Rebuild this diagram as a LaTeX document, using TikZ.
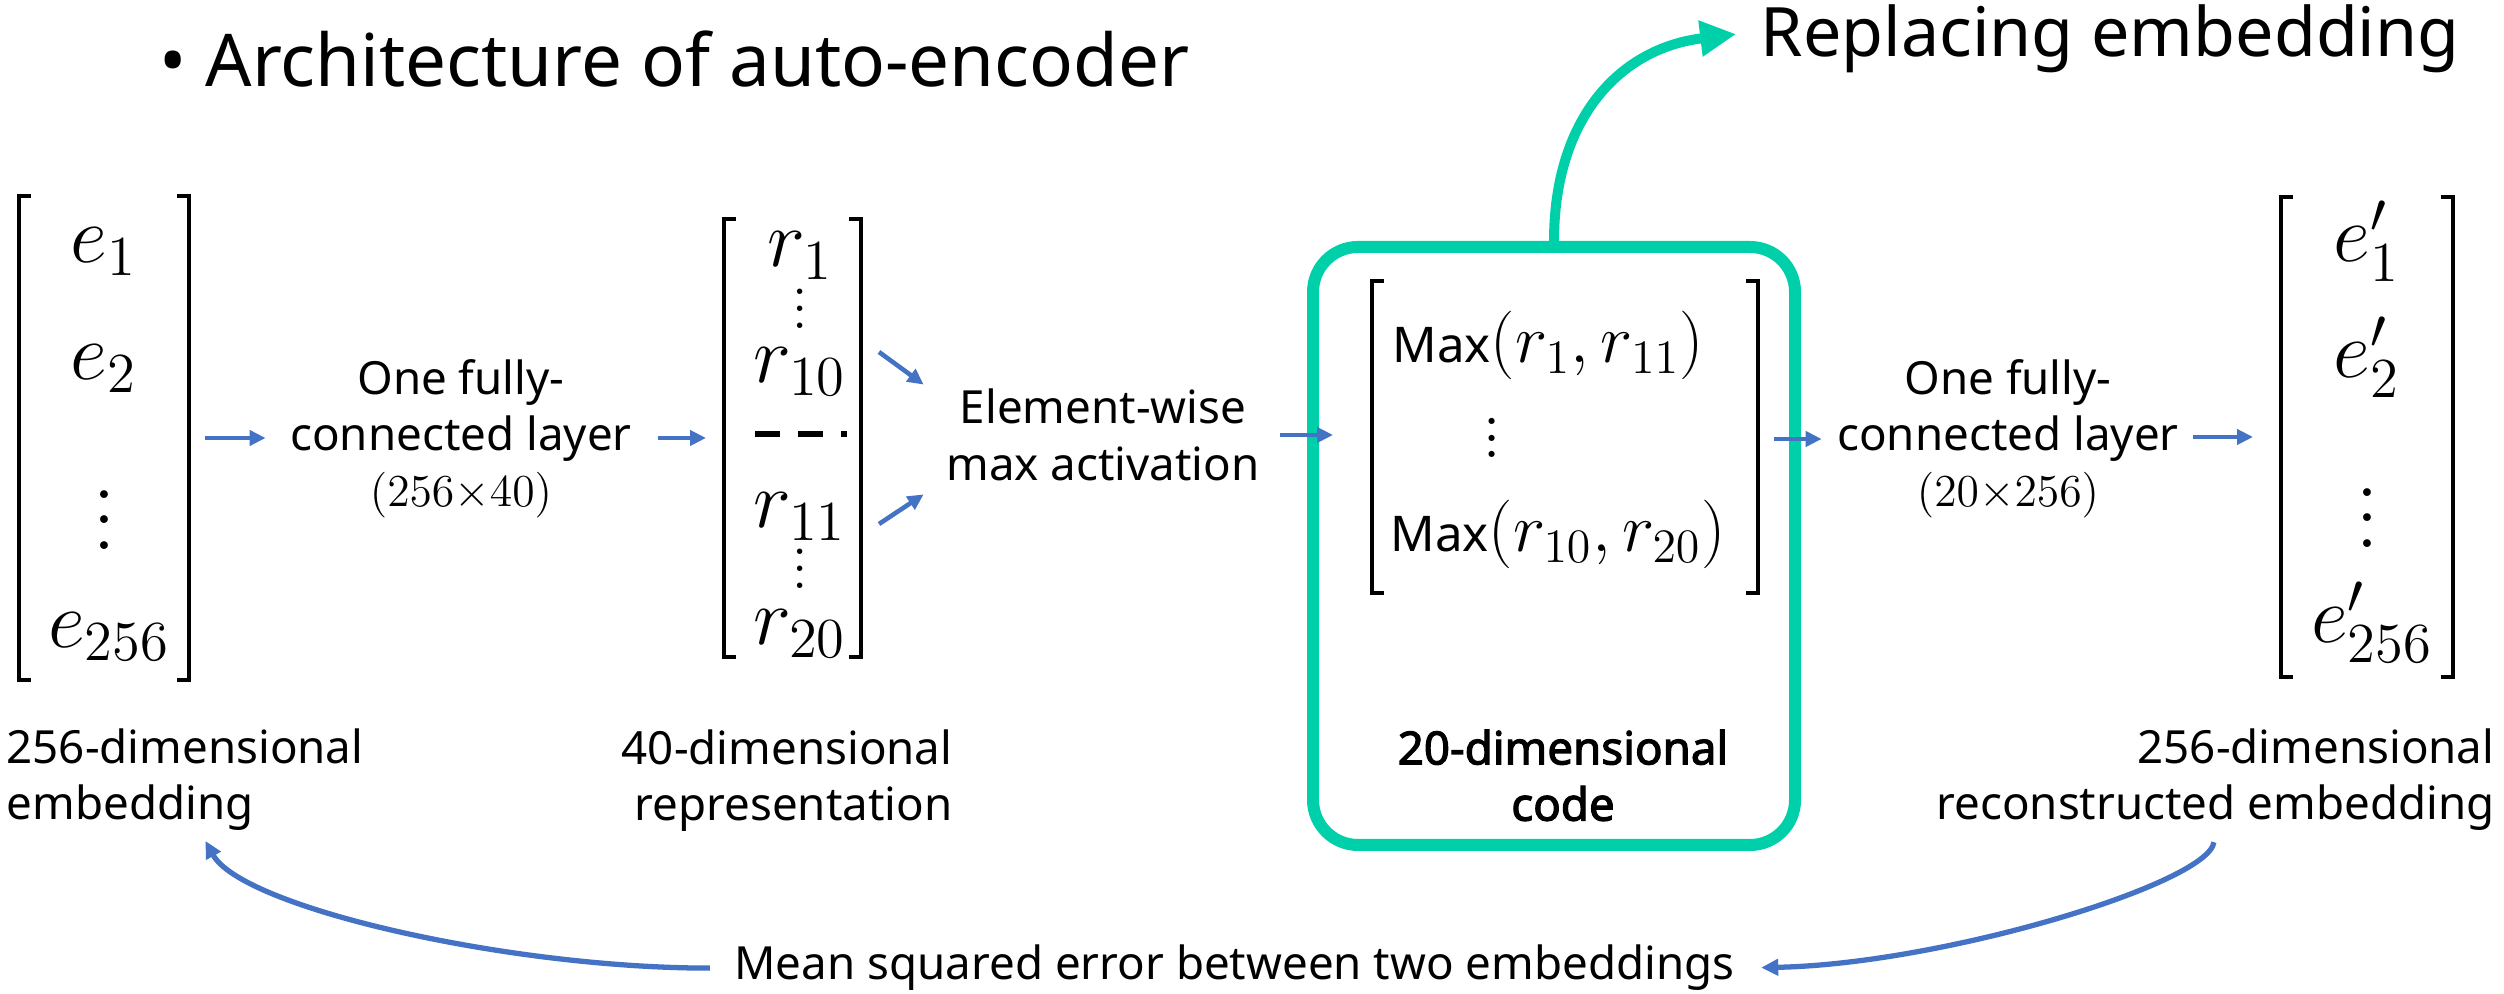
\RequirePackage{fix-cm}
\documentclass[tikz,border=0pt]{standalone}
\usepackage[no-math]{fontspec}
\setmainfont{Noto Sans}[AutoFakeBold=2.5]
\usetikzlibrary{arrows.meta,calc}

\definecolor{flowblue}{RGB}{68,114,196}
\definecolor{codegreen}{RGB}{0,208,170}

% three stacked dots with a chosen pitch
\newcommand\vdotz[1]{\vbox{\baselineskip=#1\lineskiplimit=0pt\hbox{$.$}\hbox{$.$}\hbox{$.$}}}
% square brackets round an empty vector node
\newcommand\vecbrackets[2][0.12]{%
  \draw[brk] ([xshift=#1cm]#2.north west) -- (#2.north west) -- (#2.south west) -- ++(#1,0);
  \draw[brk] ([xshift=-#1cm]#2.north east) -- (#2.north east) -- (#2.south east) -- ++(-#1,0);}

\tikzset{
  vecbox/.style={inner sep=0pt, outer sep=0pt},
  brk/.style={draw=black, line width=1pt},
  ent/.style={font=\fontsize{23}{27}\selectfont, inner sep=0pt, anchor=base},
  txt/.style={font=\fontsize{13}{16}\selectfont, inner sep=0pt},
  flow/.style={draw=flowblue, line width=1.3pt, -{Triangle[length=0.16cm,width=0.15cm]}},
  loss/.style={draw=flowblue, line width=1.5pt, -{Triangle[length=0.17cm,width=0.16cm]}},
  replace/.style={draw=codegreen, line width=0.1cm, -{Triangle[length=0.36cm,width=0.34cm]}},
  codebox/.style={draw=codegreen, line width=0.12cm, rounded corners=0.45cm, inner sep=0pt},
  sepline/.style={draw=black, line width=1.7pt, dash pattern=on 0.25cm off 0.18cm},
}

\begin{document}
\begin{tikzpicture}
  \fill[white] (0,0) rectangle (25.04,9.94);
  \useasboundingbox (0,0) rectangle (25.04,9.94);

  % headings
  \node[anchor=base west, inner sep=0pt, font=\fontsize{20.7}{25}\selectfont] (title) at (2.05,9.07) {\llap{•\ }Architecture of auto-encoder};
  \node[anchor=base west, inner sep=0pt, font=\fontsize{19.4}{23}\selectfont] (replacing) at (17.60,9.37) {Replacing embedding};

  % input embedding
  \node[vecbox, minimum width=1.70cm, minimum height=4.84cm] (emb) at (1.04,5.56) {};
  \foreach \nm/\lab/\x/\y in {e1/e_1/1.04/7.31, e2/e_2/1.04/6.14, e256/e_{256}/1.09/3.46}
    \node[ent] (\nm) at (\x,\y) {$\lab$};
  \node[ent, anchor=center] (edots) at (1.04,4.74) {\vdotz{7.3pt}};
  \vecbrackets{emb}

  % 40-dimensional representation
  \node[vecbox, minimum width=1.37cm, minimum height=4.38cm] (rep) at (7.925,5.56) {};
  \foreach \nm/\lab/\y in {r1/r_1/7.27, r10/r_{10}/6.11, r11/r_{11}/4.66, r20/r_{20}/3.49}
    \node[ent] (\nm) at (8.0,\y) {$\lab$};
  \node[ent, anchor=center, font=\fontsize{16}{18}\selectfont] (rdotsa) at (8.0,6.85) {\vdotz{4.8pt}};
  \node[ent, anchor=center, font=\fontsize{16}{18}\selectfont] (rdotsb) at (8.0,4.25) {\vdotz{4.8pt}};
  \draw[sepline] (7.55,5.60) -- (8.47,5.60);
  \vecbrackets{rep}

  % 20-dimensional code
  \node[codebox, minimum width=4.82cm, minimum height=5.98cm] (code) at (15.54,4.48) {};
  \node[vecbox, minimum width=3.86cm, minimum height=3.12cm] (codevec) at (15.65,5.57) {};
  \node[anchor=base west, inner sep=0pt] (max1) at (13.92,6.31)
    {{\fontsize{14}{16}\selectfont Max}{\fontsize{19.5}{22}\selectfont$(r_1, r_{11})$}};
  \node[anchor=center, inner sep=0pt, font=\fontsize{18}{20}\selectfont] (mdots) at (14.92,5.56) {\vdotz{4.8pt}};
  \node[anchor=base west, inner sep=0pt] (max2) at (13.90,4.42)
    {{\fontsize{14}{16}\selectfont Max}{\fontsize{19.5}{22}\selectfont$(r_{10}, r_{20})$}};
  \vecbrackets{codevec}

  % reconstructed embedding
  \node[vecbox, minimum width=1.72cm, minimum height=4.80cm] (recon) at (23.67,5.57) {};
  \foreach \nm/\lab/\x/\y in {f1/e'_1/23.67/7.32, f2/e'_2/23.67/6.16, f256/e'_{256}/23.72/3.51}
    \node[ent] (\nm) at (\x,\y) {$\lab$};
  \node[ent, anchor=center] (fdots) at (23.67,4.76) {\vdotz{7.3pt}};
  \vecbrackets{recon}

  % layer labels
  \node[txt, align=center] (fc1) at (4.61,5.55) {One fully-\\connected layer\\{\fontsize{13}{15}\selectfont$(256{\times}40)$}};
  \node[txt, align=center] (act) at (11.03,5.59) {Element-wise\\max activation};
  \node[txt, align=center] (fc2) at (20.08,5.55) {One fully-\\connected layer\\{\fontsize{13}{15}\selectfont$(20{\times}256)$}};

  % captions
  \node[txt, align=left, anchor=north west] (embl) at (0.06,2.66) {256-dimensional\\embedding};
  \node[txt, align=right, anchor=north east] (repl) at (9.53,2.65) {40-dimensional\\representation};
  \node[txt, align=center, anchor=north, font=\fontsize{13}{16}\selectfont\bfseries] (codel) at (15.63,2.65) {20-dimensional\\code};
  \node[txt, align=right, anchor=north east] (reconl) at (24.95,2.66) {256-dimensional\\reconstructed embedding};
  \node[txt, anchor=base] (mse) at (12.345,0.14) {Mean squared error between two embeddings};

  % forward pass
  \draw[flow, shorten <=0.16cm, shorten >=0.24cm] (emb.east) -- (emb.east -| fc1.west);
  \draw[flow, shorten <=0.26cm, shorten >=0.18cm] (fc1.east |- rep.west) -- (rep.west);
  \draw[flow] ($(rep.east)+(0.18,0.86)$) -- ($(act.north west)+(-0.22,0.04)$);
  \draw[flow] ($(rep.east)+(0.18,-0.86)$) -- ($(act.south west)+(-0.22,-0.13)$);
  \draw[flow, shorten <=0.2cm] (act.east) -- ([xshift=0.26cm]act.east -| code.west);
  \draw[flow, shorten >=0.15cm] ([xshift=0.16cm]codevec.east |- fc2.west) -- (fc2.west);
  \draw[flow, shorten <=0.14cm, shorten >=0.28cm] (fc2.east |- recon.west) -- (recon.west);

  % code taken out
  \draw[replace, shorten >=0.24cm] (code.north) .. controls +(0,1.23) and +(-1.4,-0.17) .. ([yshift=0.08cm]replacing.west);

  % reconstruction loss
  \draw[loss, shorten <=0.24cm, shorten >=0.11cm] (mse.west) .. controls +(-2.27,0) and +(0.42,-0.76) .. ([xshift=0.15cm]embl.south);
  \draw[loss, shorten <=0.11cm, shorten >=0.26cm] (reconl.south) .. controls +(-0.07,-0.52) and +(2.08,0.04) .. (mse.east);
\end{tikzpicture}
\end{document}
